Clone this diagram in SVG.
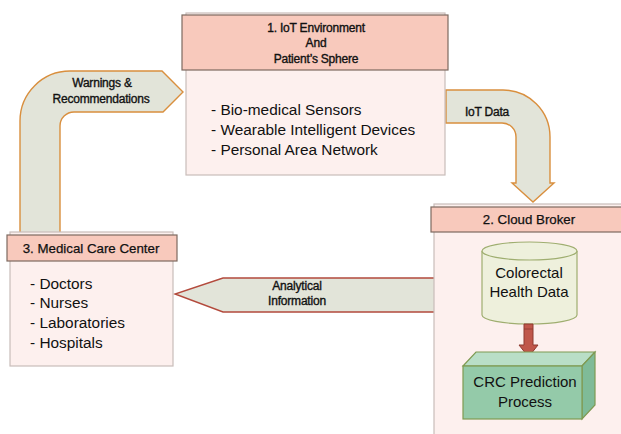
<svg xmlns="http://www.w3.org/2000/svg" width="621" height="434" viewBox="0 0 621 434">
  <style>
    .body { fill: #fdf0ee; stroke: #c9bdb9; stroke-width: 1.2; }
    .head { fill: #f8c9bc; stroke: #7d6a60; stroke-width: 1.2; }
    .flow { fill: #e2e4d9; stroke: #d98f3e; stroke-width: 1.4; stroke-linejoin: miter; }
    .flow-red { fill: #e2e4d9; stroke: #b34a3c; stroke-width: 1.4; }
    .lbl { font-family: "Liberation Sans Narrow", "Liberation Sans", Arial, sans-serif; font-size: 12px; fill: #111; stroke: #111; stroke-width: 0.35; text-anchor: middle; letter-spacing: -0.2px; }
    .title { font-family: "Liberation Sans", Arial, sans-serif; font-size: 13.3px; fill: #111; stroke: #111; stroke-width: 0.25; text-anchor: middle; }
    .item { font-family: "Liberation Sans", Arial, sans-serif; font-size: 15.4px; fill: #111; }
    .inner { font-family: "Liberation Sans", Arial, sans-serif; font-size: 15px; fill: #111; text-anchor: middle; }
  </style>

  <!-- connectors -->
  <g id="connectors">
    <!-- Medical Care Center to IoT Environment -->
    <path class="flow" d="M20,233 L20,121 A50,50 0 0 1 70,71 L162,71 L183,92 L163,112 L74,112 A14,14 0 0 0 60,126 L60,233 Z"/>
    <text class="lbl" x="102" y="87">Warnings &amp;</text>
    <text class="lbl" x="101" y="103">Recommendations</text>

    <!-- IoT Environment to Cloud Broker -->
    <path class="flow" d="M446,90 L503,90 A47,47 0 0 1 550,137 L550,183 L554,183 L533,202 L512,183 L516,183 L516,137 A14,14 0 0 0 502,123 L446,123 Z"/>
    <text class="lbl" x="487" y="116">IoT Data</text>

    <!-- Cloud Broker to Medical Care Center -->
    <path class="flow-red" d="M435,278 L223,278 L175,294 L223,312 L435,312 Z"/>
    <text class="lbl" x="297" y="290">Analytical</text>
    <text class="lbl" x="297" y="305">Information</text>
  </g>

  <!-- 1. IoT Environment -->
  <g id="iot-environment">
    <rect class="body" x="186" y="13" width="259" height="162"/>
    <rect class="head" x="182" y="15" width="266" height="55"/>
    <text class="lbl" x="316" y="32">1. IoT Environment</text>
    <text class="lbl" x="316" y="47">And</text>
    <text class="lbl" x="316" y="63">Patient’s Sphere</text>
    <text class="item" x="211" y="115">- Bio-medical Sensors</text>
    <text class="item" x="211" y="135">- Wearable Intelligent Devices</text>
    <text class="item" x="211" y="155">- Personal Area Network</text>
  </g>

  <!-- 2. Cloud Broker -->
  <g id="cloud-broker">
    <rect class="body" x="434" y="204" width="200" height="240"/>
    <rect class="head" x="431" y="207" width="200" height="25"/>
    <text class="title" x="529" y="224">2. Cloud Broker</text>

    <!-- data store -->
    <g id="health-data">
      <path d="M482,251 L482,315 A47.5,9 0 0 0 577,315 L577,251" fill="#eef0dc" stroke="#9fae70" stroke-width="1.2"/>
      <ellipse cx="529.5" cy="251" rx="47.5" ry="9" fill="#eef0dc" stroke="#9fae70" stroke-width="1.2"/>
      <text class="inner" x="529" y="278">Colorectal</text>
      <text class="inner" x="529" y="297">Health Data</text>
    </g>

    <!-- internal flow -->
    <path d="M524,324 L533,324 L533,345 L538,345 L528.5,357 L519,345 L524,345 Z" fill="#c0574b" stroke="#8e3a30" stroke-width="1"/>
    <line x1="524" y1="329" x2="533" y2="329" stroke="#8e3a30" stroke-width="0.8"/>

    <!-- prediction block -->
    <g id="crc-prediction">
      <path d="M463,366 L476,352 L595,352 L582,366 Z" fill="#b9dec7" stroke="#7f9a52" stroke-width="1.2"/>
      <path d="M582,366 L595,352 L595,405 L582,419 Z" fill="#7fbb98" stroke="#7f9a52" stroke-width="1.2"/>
      <rect x="463" y="366" width="119" height="53" fill="#94caa9" stroke="#7f9a52" stroke-width="1.2"/>
      <text class="inner" x="525" y="387">CRC Prediction</text>
      <text class="inner" x="525" y="407">Process</text>
    </g>
  </g>

  <!-- 3. Medical Care Center -->
  <g id="medical-care-center">
    <rect class="body" x="10" y="232" width="163" height="134"/>
    <rect class="head" x="7" y="235" width="170" height="26"/>
    <text class="title" x="91" y="253">3. Medical Care Center</text>
    <text class="item" x="30" y="289">- Doctors</text>
    <text class="item" x="30" y="308">- Nurses</text>
    <text class="item" x="30" y="328">- Laboratories</text>
    <text class="item" x="30" y="348">- Hospitals</text>
  </g>
</svg>
